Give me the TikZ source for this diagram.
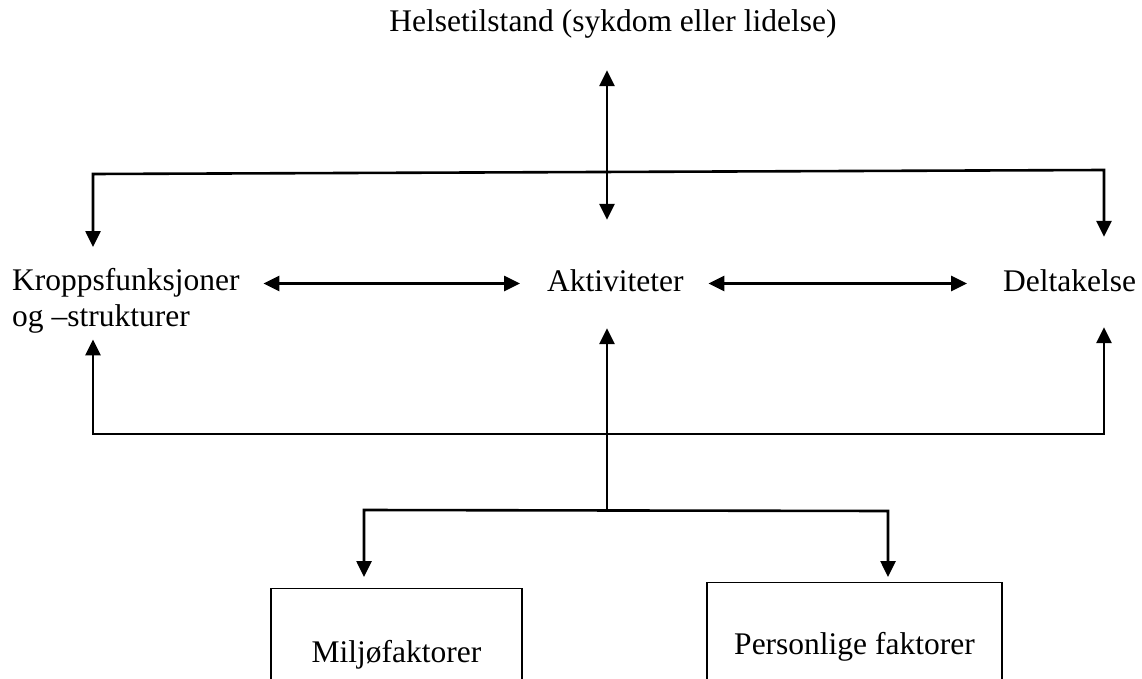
\documentclass[tikz,border=0pt]{standalone}
\usepackage{fontspec}
\setmainfont{Liberation Serif}
\usetikzlibrary{arrows.meta}
\begin{document}
\begin{tikzpicture}[x=1pt,y=-1pt,
  lbl/.style={inner sep=0pt, font=\fontsize{31.5}{36}\selectfont, text height=22pt, text depth=7pt},
  multi/.style={inner sep=0pt, font=\fontsize{31.5}{36}\selectfont, align=left},
  boxnode/.style={draw, line width=1.3pt, inner sep=0pt, font=\fontsize{31.5}{36}\selectfont, text height=22pt, text depth=7pt},
  conn/.style={line width=2.6pt, -{Triangle[length=16pt,width=15pt]}},
  conn2/.style={line width=2.6pt, {Triangle[length=16pt,width=15pt]}-{Triangle[length=16pt,width=15pt]}}]
\useasboundingbox (0,0) rectangle (1142,679);
\clip (0,0) rectangle (1142,679);

% text nodes
\node[lbl, anchor=base] (helse) at (613,32) {Helsetilstand (sykdom eller lidelse)};
\node[multi, anchor=north west] (kropps) at (12,268) {Kroppsfunksjoner\\og –strukturer};
\node[lbl, anchor=base west] (akt) at (547,291) {Aktiviteter};
\node[lbl, anchor=base west] (delt) at (1003,291) {Deltakelse};
\node[boxnode, anchor=north, minimum width=251pt, minimum height=132pt] (milj) at (396.5,588) {Miljøfaktorer};
\node[boxnode, anchor=north, minimum width=295pt, minimum height=129pt] (pers) at (854.5,582) {Personlige faktorer};

% routing coordinates
\coordinate (ax) at (607,0);
\coordinate (tl) at (93,174);
\coordinate (tr) at (1104,170);
\coordinate (bl) at (93,434);
\coordinate (br) at (1104,434);
\coordinate (brl) at (364,510);
\coordinate (brc) at (607,511);
\coordinate (brr) at (888,511);

% health condition <-> activities
\draw[conn2, shorten <=31pt, shorten >=49pt] (helse.south -| ax) -- (akt.north -| ax);

% top loop
\draw[conn2, shorten <=21pt, shorten >=32pt] (tl |- kropps.north) -- (tl) -- (tr) -- (tr |- delt.north);

% horizontal links
\draw[conn2, shorten <=23.5pt, shorten >=27pt] (kropps.east |- akt.west) -- (akt.west);
\draw[conn2, shorten <=24.5pt, shorten >=36pt] (akt.east) -- (delt.west);

% bottom loop
\draw[conn2, shorten <=6pt, shorten >=29pt] (bl |- kropps.south) -- (bl) -- (br) -- (br |- delt.south);

% contextual factors up to activities
\draw[conn, shorten >=30pt] (brc) -- (akt.south -| ax);

% branch down to the two boxes
\draw[conn2, shorten <=11pt, shorten >=5pt] (milj.north -| brl) -- (brl) -- (brr) -- (pers.north -| brr);
\end{tikzpicture}
\end{document}
